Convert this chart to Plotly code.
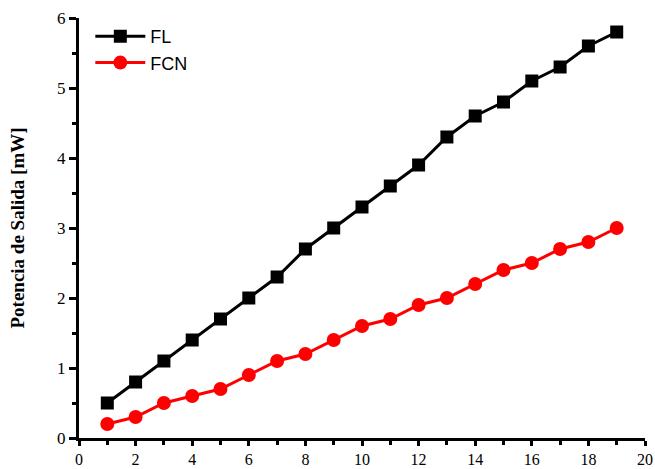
import plotly.graph_objects as go

x_vals = list(range(1, 20))
fl_vals = [0.5, 0.8, 1.1, 1.4, 1.7, 2.0, 2.3, 2.7, 3.0, 3.3, 3.6, 3.9, 4.3, 4.6, 4.8, 5.1, 5.3, 5.6, 5.8]
fcn_vals = [0.2, 0.3, 0.5, 0.6, 0.7, 0.9, 1.1, 1.2, 1.4, 1.6, 1.7, 1.9, 2.0, 2.2, 2.4, 2.5, 2.7, 2.8, 3.0]

fig = go.Figure()
fig.add_trace(go.Scatter(x=x_vals, y=fl_vals, name="FL", mode="lines+markers",
                         line=dict(color="black", width=3),
                         marker=dict(symbol="square", size=13, color="black")))
fig.add_trace(go.Scatter(x=x_vals, y=fcn_vals, name="FCN", mode="lines+markers",
                         line=dict(color="#ff0000", width=3),
                         marker=dict(symbol="circle", size=14, color="#ff0000")))

axis_common = dict(showgrid=False, zeroline=False, showline=True, linecolor="#000000", linewidth=3,
                   ticks="outside", tickwidth=3, tickcolor="#000000", automargin=False)

fig.update_layout(
    width=655, height=469,
    margin=dict(l=79, r=10, t=18, b=31),
    plot_bgcolor="white", paper_bgcolor="white",
    xaxis=dict(range=[0, 20], dtick=2, tick0=0, ticklen=5,
               tickfont=dict(family="Liberation Serif", size=16, color="black"),
               minor=dict(dtick=1, ticks="outside", ticklen=4, tickwidth=3, tickcolor="#000000"),
               **axis_common),
    yaxis=dict(range=[0, 6], dtick=1, tick0=0, ticklen=7,
               tickfont=dict(family="Liberation Serif", size=17, color="black"),
               minor=dict(dtick=0.5, ticks="outside", ticklen=4, tickwidth=3, tickcolor="#000000"),
               title=dict(text="<b>Potencia de Salida [mW]</b>", standoff=28,
                          font=dict(family="Liberation Serif", size=19, color="black")),
               **axis_common),
    legend=dict(x=0.02, y=1.0, xanchor="left", yanchor="top", bgcolor="rgba(0,0,0,0)",
                font=dict(family="Liberation Sans", size=18, color="black"),
                itemwidth=50, tracegroupgap=2),
    showlegend=True,
)

fig.write_html("out.html")
